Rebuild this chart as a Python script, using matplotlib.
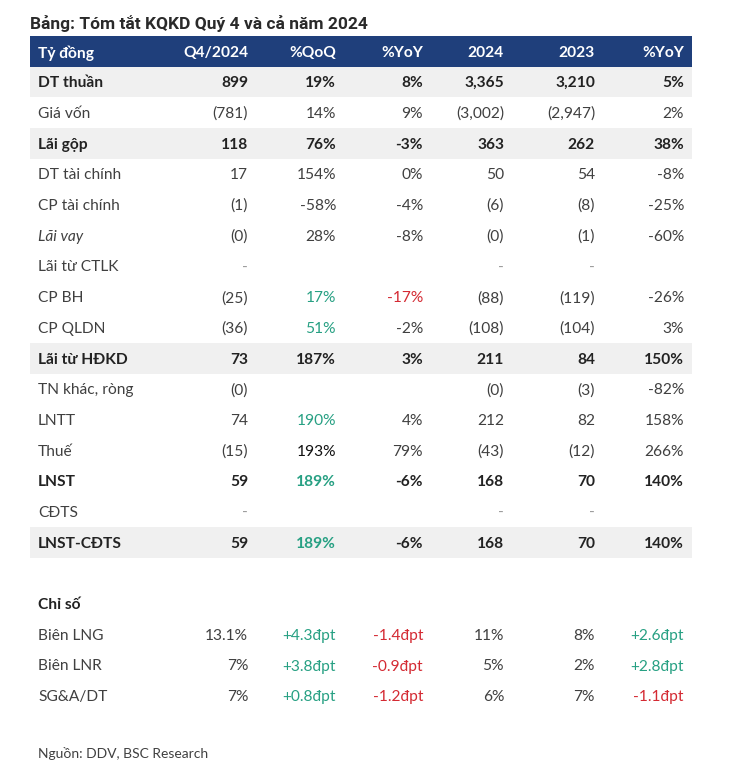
import matplotlib.pyplot as plt
from matplotlib.patches import Rectangle

plt.rcParams['font.family'] = ['Lato', 'DejaVu Sans']

title = "Bảng: Tóm tắt KQKD Quý 4 và cả năm 2024"
headers = ["Tỷ đồng", "Q4/2024", "%QoQ", "%YoY", "2024", "2023", "%YoY"]

items = ["DT thuần", "Giá vốn", "Lãi gộp", "DT tài chính", "CP tài chính", "Lãi vay",
         "Lãi từ CTLK", "CP BH", "CP QLDN", "Lãi từ HĐKD", "TN khác, ròng", "LNTT",
         "Thuế", "LNST", "CĐTS", "LNST-CĐTS"]
q4_2024 = ["899", "(781)", "118", "17", "(1)", "(0)", "-", "(25)", "(36)", "73", "(0)", "74",
           "(15)", "59", "-", "59"]
qoq = ["19%", "14%", "76%", "154%", "-58%", "28%", "", "17%", "51%", "187%", "", "190%",
       "193%", "189%", "", "189%"]
yoy_q = ["8%", "9%", "-3%", "0%", "-4%", "-8%", "", "-17%", "-2%", "3%", "", "4%",
         "79%", "-6%", "", "-6%"]
y2024 = ["3,365", "(3,002)", "363", "50", "(6)", "(0)", "-", "(88)", "(108)", "211", "(0)", "212",
         "(43)", "168", "-", "168"]
y2023 = ["3,210", "(2,947)", "262", "54", "(8)", "(1)", "-", "(119)", "(104)", "84", "(3)", "82",
         "(12)", "70", "-", "70"]
yoy_y = ["5%", "2%", "38%", "-8%", "-25%", "-60%", "", "-26%", "3%", "150%", "-82%", "158%",
         "266%", "140%", "", "140%"]

ratio_title = "Chỉ số"
ratio_items = ["Biên LNG", "Biên LNR", "SG&A/DT"]
ratio_q4 = ["13.1%", "7%", "7%"]
ratio_qoq = ["+4.3đpt", "+3.8đpt", "+0.8đpt"]
ratio_yoy_q = ["-1.4đpt", "-0.9đpt", "-1.2đpt"]
ratio_2024 = ["11%", "5%", "6%"]
ratio_2023 = ["8%", "2%", "7%"]
ratio_yoy_y = ["+2.6đpt", "+2.8đpt", "-1.1đpt"]

source = "Nguồn: DDV, BSC Research"

# styling
bold_rows = {"DT thuần", "Lãi gộp", "Lãi từ HĐKD", "LNST", "LNST-CĐTS"}
shaded_rows = {"DT thuần", "Lãi gộp", "Lãi từ HĐKD", "LNST-CĐTS"}
italic_rows = {"Lãi vay"}
GREEN = "#27a083"
RED = "#d42a33"
NAVY = "#1f3f7b"
SHADE = "#f0f0f0"
TXT = "#404040"
BOLD_TXT = "#222222"
green_cells = {(7, 2), (8, 2), (11, 2), (13, 2), (15, 2)}
red_cells = {(7, 3)}
black_cells = {(12, 2)}

col_right = [None, 248, 336, 423, 504, 595, 684]
x_left = 38
tbl_l, tbl_r = 30, 692
y0, dy = 82, 30.7
fs = 11.2
ty = 1.2  # text baseline nudge

fig = plt.figure(figsize=(7.31, 7.78), dpi=100)
ax = fig.add_axes([0, 0, 1, 1])
ax.set_xlim(0, 731)
ax.set_ylim(778, 0)
ax.axis('off')

ax.text(30, 23, title, fontsize=12.5, fontweight='bold', color="#2a2a2a",
        va='center', ha='left', family=['Roboto', 'DejaVu Sans'])

# header
ax.add_patch(Rectangle((tbl_l, 36), tbl_r - tbl_l, 31, color=NAVY, lw=0))
for j, h in enumerate(headers):
    if j == 0:
        ax.text(x_left, 52 + ty, h, color='white', fontsize=fs, fontweight='bold', va='center', ha='left')
    else:
        ax.text(col_right[j], 52 + ty, h, color='white', fontsize=fs, fontweight='bold', va='center', ha='right')

cols = [q4_2024, qoq, yoy_q, y2024, y2023, yoy_y]
for i, name in enumerate(items):
    y = y0 + i * dy
    if name in shaded_rows:
        ax.add_patch(Rectangle((tbl_l, y - dy / 2), tbl_r - tbl_l, dy, color=SHADE, lw=0))
    bold = name in bold_rows
    wt = 'bold' if bold else 'normal'
    base = BOLD_TXT if bold else TXT
    ax.text(x_left, y + ty, name, fontsize=fs, fontweight=wt, color=base, va='center', ha='left',
            style='italic' if name in italic_rows else 'normal')
    for j, col in enumerate(cols, start=1):
        val = col[i]
        c = base
        if (i, j) in green_cells:
            c = GREEN
        elif (i, j) in red_cells:
            c = RED
        elif (i, j) in black_cells:
            c = "#111111"
        if val == "-":
            c = "#9a9a9a"
        ax.text(col_right[j], y + ty, val, fontsize=fs, fontweight=wt, color=c, va='center', ha='right')

# ratios
ax.text(x_left, y0 + 17 * dy + ty, ratio_title, fontsize=fs, fontweight='bold', color=BOLD_TXT,
        va='center', ha='left')
rcols = [ratio_q4, ratio_qoq, ratio_yoy_q, ratio_2024, ratio_2023, ratio_yoy_y]
for i, name in enumerate(ratio_items):
    y = y0 + (18 + i) * dy + ty
    ax.text(x_left, y, name, fontsize=fs, color=TXT, va='center', ha='left')
    for j, col in enumerate(rcols, start=1):
        val = col[i]
        c = TXT
        if val.endswith("đpt"):
            c = GREEN if val.startswith("+") else RED
        ax.text(col_right[j], y, val, fontsize=fs, color=c, va='center', ha='right')

ax.text(x_left, 754, source, fontsize=10, color=TXT, va='center', ha='left')

fig.savefig("out.png", dpi=100)
